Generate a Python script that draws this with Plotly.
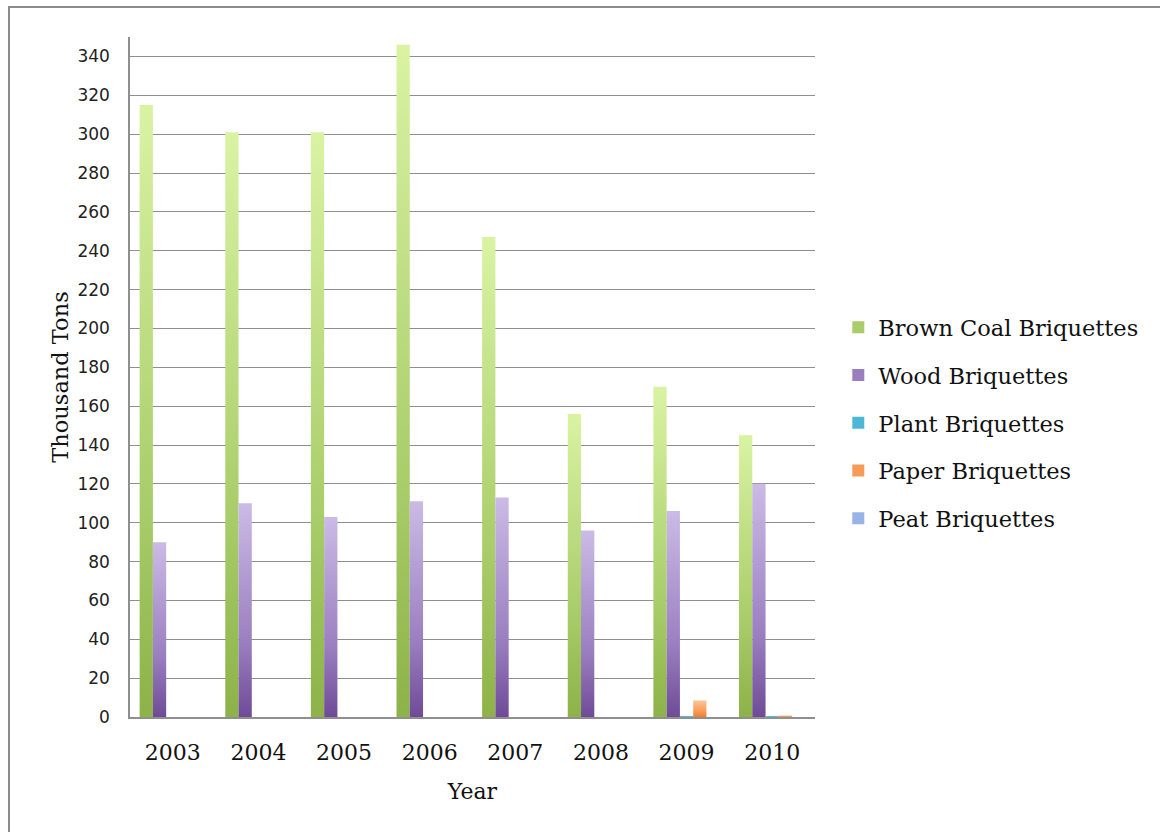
import plotly.graph_objects as go

# Briquette production by type, thousand tons
years = ["2003", "2004", "2005", "2006", "2007", "2008", "2009", "2010"]
brown_coal = [315, 301, 301, 346, 247, 156, 170, 145]
wood = [90, 110, 103, 111, 113, 96, 106, 120]
plant = [0, 0, 0, 0, 0, 0, 0.6, 0.6]
paper = [0, 0, 0, 0, 0, 0, 8.5, 0.8]
peat = [0, 0, 0, 0, 0, 0, 0, 0]

series = [
    ("Brown Coal Briquettes", brown_coal, "#8cb248", "#d9f3a3", "#a9cd6a"),
    ("Wood Briquettes", wood, "#6f4b97", "#cbbbe6", "#9a7fc0"),
    ("Plant Briquettes", plant, "#2f9ebd", "#9edff3", "#4fb7d6"),
    ("Paper Briquettes", paper, "#f07f2e", "#fcc59b", "#f79b58"),
    ("Peat Briquettes", peat, "#7c9bd6", "#b7cdf2", "#98b4e6"),
]

BAR_W = 0.155
n_series = len(series)

fig = go.Figure()

for k, (name, values, dark, light, mid) in enumerate(series):
    offset = (k - (n_series - 1) / 2) * BAR_W
    # one filled polygon per bar so each bar gets its own vertical gradient
    for i, v in enumerate(values):
        if v <= 0:
            continue
        x0 = i + offset - BAR_W / 2
        x1 = i + offset + BAR_W / 2
        fig.add_trace(go.Scatter(
            x=[x0, x1, x1, x0, x0],
            y=[0, 0, v, v, 0],
            mode="lines",
            line=dict(width=0, color=mid),
            fill="toself",
            fillgradient=dict(
                type="vertical",
                start=0,
                stop=v,
                colorscale=[[0, dark], [0.35, mid], [1, light]],
            ),
            showlegend=False,
            hoverinfo="skip",
            legendgroup=name,
        ))
    # legend entry
    fig.add_trace(go.Bar(
        x=[None], y=[None], name=name,
        marker=dict(color=mid, line=dict(width=0)),
        legendgroup=name, showlegend=True,
    ))

grid_col = "#8f8f8f"
serif = "DejaVu Serif"

fig.update_layout(
    width=1160,
    height=832,
    paper_bgcolor="white",
    plot_bgcolor="white",
    margin=dict(l=130, r=345, t=37, b=115),
    showlegend=True,
    legend=dict(
        x=1.034, xanchor="left",
        y=0.432, yanchor="middle",
        font=dict(family=serif, size=22.5, color="#111111"),
        traceorder="grouped",
        tracegroupgap=15.5,
        itemwidth=30,
        bgcolor="rgba(0,0,0,0)",
    ),
    xaxis=dict(
        range=[-0.5, 7.5],
        tickmode="array",
        tickvals=list(range(len(years))),
        ticktext=years,
        showgrid=False,
        zeroline=False,
        showline=True,
        linecolor=grid_col,
        linewidth=1.5,
        ticks="",
        ticklabelstandoff=15,
        tickfont=dict(family=serif, size=22, color="#111111"),
        title=dict(text="Year", font=dict(family=serif, size=22, color="#111111"), standoff=19),
        fixedrange=True,
    ),
    yaxis=dict(
        range=[0, 350],
        tickmode="linear",
        tick0=0,
        dtick=20,
        showgrid=True,
        gridcolor=grid_col,
        gridwidth=1.3,
        zeroline=False,
        showline=True,
        linecolor=grid_col,
        linewidth=1.5,
        ticks="",
        ticklabelstandoff=15,
        tickfont=dict(family="DejaVu Sans", size=17, color="#222222"),
        title=dict(text="Thousand Tons", font=dict(family=serif, size=22.5, color="#111111"), standoff=3),
        fixedrange=True,
    ),
    shapes=[
        dict(
            type="rect", xref="paper", yref="paper",
            x0=(9 - 130) / 685, x1=2.0,
            y0=-1.0, y1=1 + (37 - 7) / 680,
            line=dict(color="#8c8c8c", width=2),
            fillcolor="rgba(0,0,0,0)",
            layer="above",
        )
    ],
)

fig.write_html("out.html")
